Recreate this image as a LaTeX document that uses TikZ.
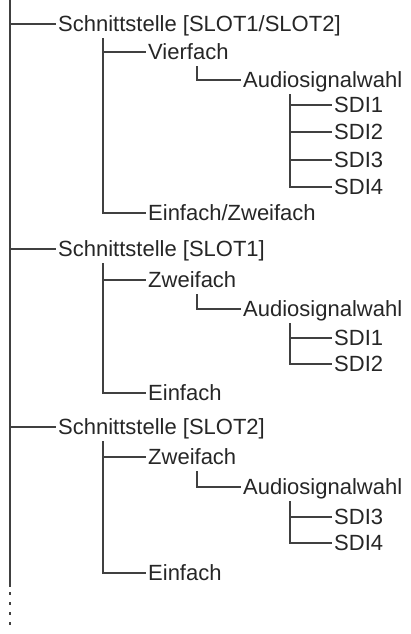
\documentclass[tikz,border=0pt]{standalone}
\usepackage{fontspec}
\setmainfont{Liberation Sans}
\usepackage{tikz}

\begin{document}
\begin{tikzpicture}[x=1pt,y=-1pt,
    item/.style={anchor=west,inner xsep=2.5pt,inner ysep=0pt,
      text height=21.8pt,text depth=6pt,text=black!85,
      font=\fontsize{22}{26}\selectfont},
    branch/.style={draw=black!75,line width=1.4pt}]
  \useasboundingbox (0,0) rectangle (410,634);

  % bar positions of the four levels
  \coordinate (top) at (10,0);
  \coordinate (bartwo) at (103,0);
  \coordinate (barthree) at (197,0);
  \coordinate (barfour) at (290,0);
  \coordinate (mainend) at (10,587);
  \coordinate (dotend) at (10,632);

  % SLOT1/SLOT2
  \node[item] (s1) at (55.5,24) {Schnittstelle [SLOT1/SLOT2]};
  \node[item] (vier) at (145.5,52) {Vierfach};
  \node[item] (audioA) at (240.5,80) {Audiosignalwahl};
  \node[item] (sdiA1) at (331.5,105) {SDI1};
  \node[item] (sdiA2) at (331.5,132) {SDI2};
  \node[item] (sdiA3) at (331.5,160) {SDI3};
  \node[item] (sdiA4) at (331.5,187) {SDI4};
  \node[item] (einzwei) at (145.5,213) {Einfach/Zweifach};

  % SLOT1
  \node[item] (s2) at (55.5,249) {Schnittstelle [SLOT1]};
  \node[item] (zweiB) at (145.5,280) {Zweifach};
  \node[item] (audioB) at (240.5,309) {Audiosignalwahl};
  \node[item] (sdiB1) at (331.5,338) {SDI1};
  \node[item] (sdiB2) at (331.5,364) {SDI2};
  \node[item] (einB) at (145.5,393) {Einfach};

  % SLOT2
  \node[item] (s3) at (55.5,427) {Schnittstelle [SLOT2]};
  \node[item] (zweiC) at (145.5,457) {Zweifach};
  \node[item] (audioC) at (240.5,487) {Audiosignalwahl};
  \node[item] (sdiC3) at (331.5,517) {SDI3};
  \node[item] (sdiC4) at (331.5,543) {SDI4};
  \node[item] (einC) at (145.5,573) {Einfach};

  % main line
  \draw[branch] (top) -- (mainend);
  \draw[branch,dash pattern=on 3pt off 7pt] ([yshift=5pt]mainend) -- (dotend);
  \draw[branch] (s1.west -| top) -- (s1.west);
  \draw[branch] (s2.west -| top) -- (s2.west);
  \draw[branch] (s3.west -| top) -- (s3.west);

  \draw[branch] (s1.south -| bartwo) |- (einzwei.west);
  \draw[branch] (vier.west -| bartwo) -- (vier.west);
  \draw[branch] (vier.south -| barthree) |- (audioA.west);
  \draw[branch] (audioA.south -| barfour) |- (sdiA4.west);
  \draw[branch] (sdiA1.west -| barfour) -- (sdiA1.west);
  \draw[branch] (sdiA2.west -| barfour) -- (sdiA2.west);
  \draw[branch] (sdiA3.west -| barfour) -- (sdiA3.west);

  \draw[branch] (s2.south -| bartwo) |- (einB.west);
  \draw[branch] (zweiB.west -| bartwo) -- (zweiB.west);
  \draw[branch] (zweiB.south -| barthree) |- (audioB.west);
  \draw[branch] (audioB.south -| barfour) |- (sdiB2.west);
  \draw[branch] (sdiB1.west -| barfour) -- (sdiB1.west);

  \draw[branch] (s3.south -| bartwo) |- (einC.west);
  \draw[branch] (zweiC.west -| bartwo) -- (zweiC.west);
  \draw[branch] (zweiC.south -| barthree) |- (audioC.west);
  \draw[branch] (audioC.south -| barfour) |- (sdiC4.west);
  \draw[branch] (sdiC3.west -| barfour) -- (sdiC3.west);

\end{tikzpicture}
\end{document}
